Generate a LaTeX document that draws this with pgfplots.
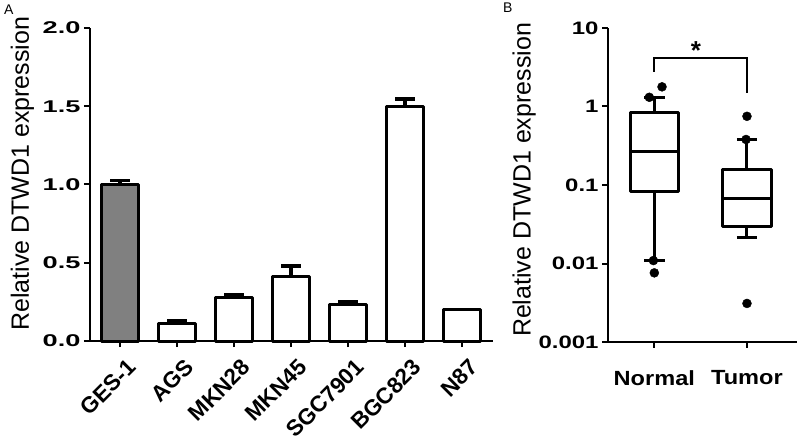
\documentclass[border=0pt]{standalone}
\usepackage{fontspec}
\setmainfont{Liberation Sans}
\newfontfamily\wideA[FakeStretch=1.6]{Liberation Sans}
\newfontfamily\wideB[FakeStretch=1.33]{Liberation Sans}
\newfontfamily\wideC[FakeStretch=1.15]{Liberation Sans}
\usepackage{pgfplots}
\usepackage{pgfplotstable}
\pgfplotsset{compat=1.18}
\usepgfplotslibrary{statistics}

\definecolor{barGray}{HTML}{808080}

% panel A: relative expression, mean and upper error
\pgfplotstableread{
x y err
0 1.000 0.024
}\ctrlA
\pgfplotstableread{
x y err
1 0.113 0.015
2 0.280 0.015
3 0.415 0.065
4 0.234 0.016
5 1.497 0.050
6 0.200 0.000
}\cellsA

\pgfplotsset{
  prism/.style={
    scale only axis, anchor=south west, clip=false,
    axis lines=left, axis line style={line width=2pt, -},
    tick style={line width=2pt, black}, tick align=outside,
    major tick length=6pt,
    ylabel={Relative DTWD1 expression},
  },
  bars/.style={ybar, bar width=37pt, bar shift=0pt, draw=black, line width=3pt,
    line join=round,
    error bars/y dir=plus, error bars/y explicit, error bars/error mark=|,
    error bars/error bar style={line width=3.5pt, black},
    error bars/error mark options={line width=3.5pt, mark size=10pt, black}},
  box/.style={black, line width=3pt, line join=round, boxplot/draw direction=y},
}

\begin{document}
\begin{tikzpicture}
\useasboundingbox (0,0) rectangle (800pt,447pt);
\node[font=\fontsize{14}{14}\selectfont, anchor=north west, inner sep=0pt] at (4pt,442pt) {A};
\node[font=\fontsize{14}{14}\selectfont, anchor=north west, inner sep=0pt] at (503pt,444pt) {B};

\begin{axis}[prism,
  at={(90pt,106pt)}, width=403pt, height=313pt,
  xmin=-0.53, xmax=6.54, ymin=0, ymax=2,
  xtick={0,...,6},
  xticklabels={GES-1,AGS,MKN28,MKN45,SGC7901,BGC823,N87},
  xticklabel style={font=\bfseries\fontsize{22.5}{22.5}\selectfont, rotate=45,
    anchor=north east, inner sep=0pt, xshift=-3pt, yshift=-12pt},
  ytick={0,0.5,1,1.5,2},
  yticklabel style={font=\wideA\bfseries\fontsize{17}{17}\selectfont,
    /pgf/number format/.cd, fixed, fixed zerofill, precision=1, assume math mode=true},
  ylabel style={font=\fontsize{25}{25}\selectfont, at={(axis description cs:-0.168,0.534)}, anchor=center},
]
  \addplot[bars, fill=barGray] table[x=x, y=y, y error=err] {\ctrlA};
  \addplot[bars, fill=white] table[x=x, y=y, y error=err] {\cellsA};
\end{axis}

\begin{axis}[prism,
  at={(608pt,105pt)}, width=189pt, height=314pt,
  xmin=0.5, xmax=2.54, ymode=log, ymin=0.001, ymax=10,
  xtick={1,2}, xticklabels={Normal,Tumor},
  xticklabel style={font=\wideC\bfseries\fontsize{20.5}{20.5}\selectfont, yshift=-19pt},
  ytick={0.001,0.01,0.1,1,10}, yticklabels={0.001,0.01,0.1,1,10},
  yminorticks=false,
  yticklabel style={font=\wideB\bfseries\fontsize{18}{18}\selectfont},
  ylabel style={font=\fontsize{25}{25}\selectfont, at={(axis description cs:-0.444,0.516)}, anchor=center},
]
  \addplot[box, boxplot prepared={draw position=1,
    median=0.265, upper quartile=0.83, lower quartile=0.082,
    upper whisker=1.31, lower whisker=0.0109, box extend=0.52, whisker extend=0.22}]
    coordinates {};
  \addplot[box, boxplot prepared={draw position=2,
    median=0.068, upper quartile=0.157, lower quartile=0.030,
    upper whisker=0.38, lower whisker=0.0214, box extend=0.52, whisker extend=0.22}]
    coordinates {};
  \addplot[only marks, mark=*, mark size=4.5pt, black]
    coordinates {(1.083,1.78) (0.946,1.31) (0.99,0.0109) (1.0,0.0076)
                 (2.0,0.75) (1.99,0.38) (2.0,0.0031)};
  \addplot[black, line width=2pt, mark=none]
    coordinates {(1,2.77) (1,4.2) (2,4.2) (2,1.47)};
  \node[font=\bfseries\fontsize{26}{26}\selectfont, yshift=-5pt] at (axis cs:1.45,6.0) {*};
\end{axis}
\end{tikzpicture}
\end{document}
